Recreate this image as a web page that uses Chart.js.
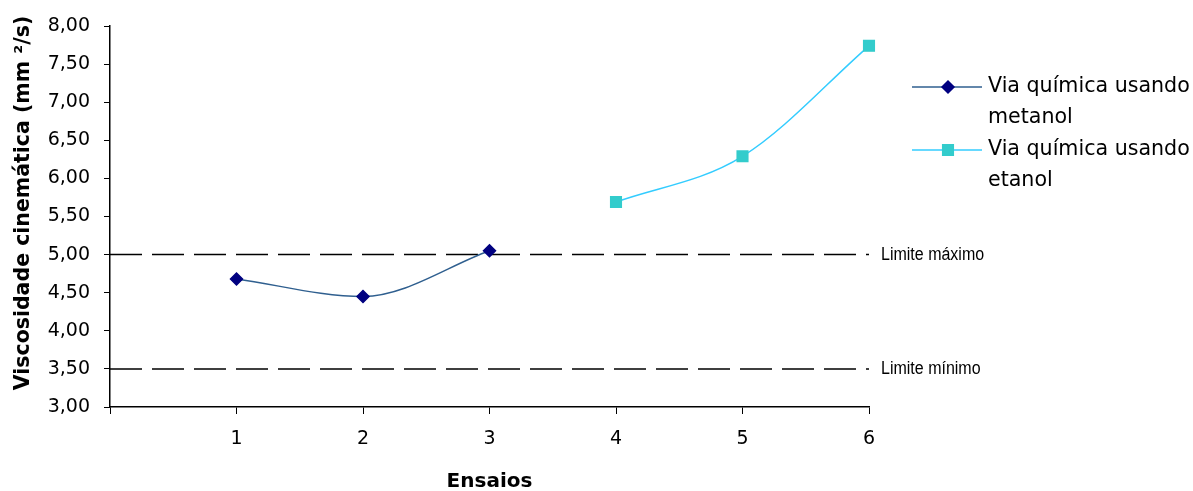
<!DOCTYPE html>
<html>
<head>
<meta charset="utf-8">
<script src="https://cdn.jsdelivr.net/npm/chart.js@4/dist/chart.umd.min.js"></script>
<style>
  html, body { margin: 0; padding: 0; background: #fff; }
  #wrap { width: 1193px; height: 491px; }
</style>
</head>
<body>
<div id="wrap"><canvas id="c" width="1193" height="491"></canvas></div>
<script>
// Ensaios (x) e viscosidades medidas (mm²/s)
const ensaios = [1, 2, 3, 4, 5, 6];
const metanol = [4.68, 4.45, 5.05, null, null, null];
const etanol = [null, null, null, 5.69, 6.29, 7.74];

// Limites da norma
const limites = [5.00, 3.50];
const limiteNomes = ['Limite máximo', 'Limite mínimo'];

// Eixos
const xTickLabels = ['', '1', '2', '3', '4', '5', '6'];
const yMin = 3.00, yMax = 8.00, yStep = 0.50;
const yTitle = 'Viscosidade cinemática (mm ²/s)';
const xTitle = 'Ensaios';

// Legenda (texto em duas linhas)
const serieNomes = [['Via química usando', 'metanol'], ['Via química usando', 'etanol']];

const toPoints = vals => ensaios
  .map((e, i) => ({ x: e, y: vals[i] }))
  .filter(p => p.y !== null);

const corMetanolLinha = '#2F5F8F';
const corMetanolPonto = '#000080';
const corEtanolLinha = '#33CCFF';
const corEtanolPonto = '#33CCCC';

const limiteDatasets = limites.map((v, i) => ({
  label: limiteNomes[i],
  data: [{ x: 0, y: v }, { x: ensaios[ensaios.length - 1], y: v }],
  borderColor: '#000',
  borderWidth: 1.5,
  borderDash: [32, 10],
  pointRadius: 0,
  fill: false,
  order: 2
}));

// Rótulos dos limites, à direita da área do gráfico
const limiteLabels = {
  id: 'limiteLabels',
  afterDraw(chart) {
    const { ctx, chartArea, scales } = chart;
    ctx.save();
    ctx.font = '16px "Liberation Sans", Arial, sans-serif';
    ctx.fillStyle = '#000';
    ctx.textBaseline = 'middle';
    ctx.textAlign = 'left';
    limites.forEach((v, i) => {
      const y = scales.y.getPixelForValue(v);
      ctx.save();
      ctx.translate(chartArea.right + 12, y);
      ctx.scale(1, 1.15);
      ctx.fillText(limiteNomes[i], 0, 0);
      ctx.restore();
    });
    ctx.restore();
  }
};

// Título do eixo vertical
const yTitlePlugin = {
  id: 'yTitle',
  afterDraw(chart) {
    const { ctx } = chart;
    ctx.save();
    ctx.translate(24, 203);
    ctx.rotate(-Math.PI / 2);
    ctx.font = 'bold 20.5px "DejaVu Sans", sans-serif';
    ctx.fillStyle = '#000';
    ctx.textAlign = 'center';
    ctx.textBaseline = 'middle';
    ctx.fillText(yTitle, 0, 0);
    ctx.restore();
  }
};

// Legenda à direita com texto quebrado em duas linhas
const legendaPlugin = {
  id: 'legenda',
  afterDraw(chart) {
    const { ctx, chartArea } = chart;
    const x0 = chartArea.right + 43;
    const rows = [
      { y: 87, line: corMetanolLinha, point: corMetanolPonto, style: 'rectRot', r: 6 },
      { y: 150, line: corEtanolLinha, point: corEtanolPonto, style: 'rect', r: 7.5 }
    ];
    ctx.save();
    rows.forEach((row, i) => {
      ctx.strokeStyle = row.line;
      ctx.lineWidth = 1.5;
      ctx.beginPath();
      ctx.moveTo(x0, row.y);
      ctx.lineTo(x0 + 70, row.y);
      ctx.stroke();
      ctx.fillStyle = row.point;
      ctx.strokeStyle = row.point;
      Chart.helpers.drawPoint(ctx, { pointStyle: row.style, radius: row.r, borderWidth: 1, rotation: 0 }, x0 + 36, row.y);
      ctx.fillStyle = '#000';
      ctx.font = '20.6px "DejaVu Sans", sans-serif';
      ctx.textAlign = 'left';
      ctx.textBaseline = 'middle';
      serieNomes[i].forEach((t, k) => ctx.fillText(t, x0 + 76, row.y + k * 31));
    });
    ctx.restore();
  }
};

new Chart(document.getElementById('c'), {
  type: 'line',
  data: {
    datasets: [
      {
        label: serieNomes[0].join(' '),
        data: toPoints(metanol),
        borderColor: corMetanolLinha,
        borderWidth: 1.5,
        backgroundColor: corMetanolPonto,
        pointBackgroundColor: corMetanolPonto,
        pointBorderColor: corMetanolPonto,
        pointStyle: 'rectRot',
        pointRadius: 6,
        cubicInterpolationMode: 'monotone',
        clip: false,
        order: 0
      },
      {
        label: serieNomes[1].join(' '),
        data: toPoints(etanol),
        borderColor: corEtanolLinha,
        borderWidth: 1.5,
        backgroundColor: corEtanolPonto,
        pointBackgroundColor: corEtanolPonto,
        pointBorderColor: corEtanolPonto,
        pointStyle: 'rect',
        pointRadius: 7.5,
        cubicInterpolationMode: 'monotone',
        clip: false,
        order: 1
      },
      ...limiteDatasets
    ]
  },
  options: {
    responsive: false,
    animation: false,
    devicePixelRatio: 1,
    layout: { padding: { top: 26, right: 324, bottom: 0, left: 0 } },
    plugins: { legend: { display: false }, tooltip: { enabled: false } },
    scales: {
      x: {
        type: 'linear',
        min: 0,
        max: ensaios[ensaios.length - 1],
        ticks: {
          stepSize: 1,
          color: '#000',
          font: { family: '"DejaVu Sans", sans-serif', size: 19 },
          padding: 14,
          maxRotation: 0,
          callback: v => xTickLabels[v] ?? ''
        },
        grid: { drawOnChartArea: false, drawTicks: true, tickLength: 7, color: '#000', lineWidth: 1 },
        border: { display: true, color: '#000', width: 1.5 },
        title: {
          display: true,
          text: xTitle,
          color: '#000',
          font: { family: '"DejaVu Sans", sans-serif', size: 20, weight: 'bold' },
          padding: { top: 0, bottom: -3 }
        },
        afterFit: s => { s.height = 84; }
      },
      y: {
        min: yMin,
        max: yMax,
        ticks: {
          stepSize: yStep,
          color: '#000',
          font: { family: '"DejaVu Sans", sans-serif', size: 19 },
          padding: 14,
          callback: v => v.toFixed(2).replace('.', ',')
        },
        grid: { drawOnChartArea: false, drawTicks: true, tickLength: 6, color: '#000', lineWidth: 1 },
        border: { display: true, color: '#000', width: 1.5 },
        afterFit: s => { s.width = 110; }
      }
    }
  },
  plugins: [limiteLabels, yTitlePlugin, legendaPlugin]
});
</script>
</body>
</html>
